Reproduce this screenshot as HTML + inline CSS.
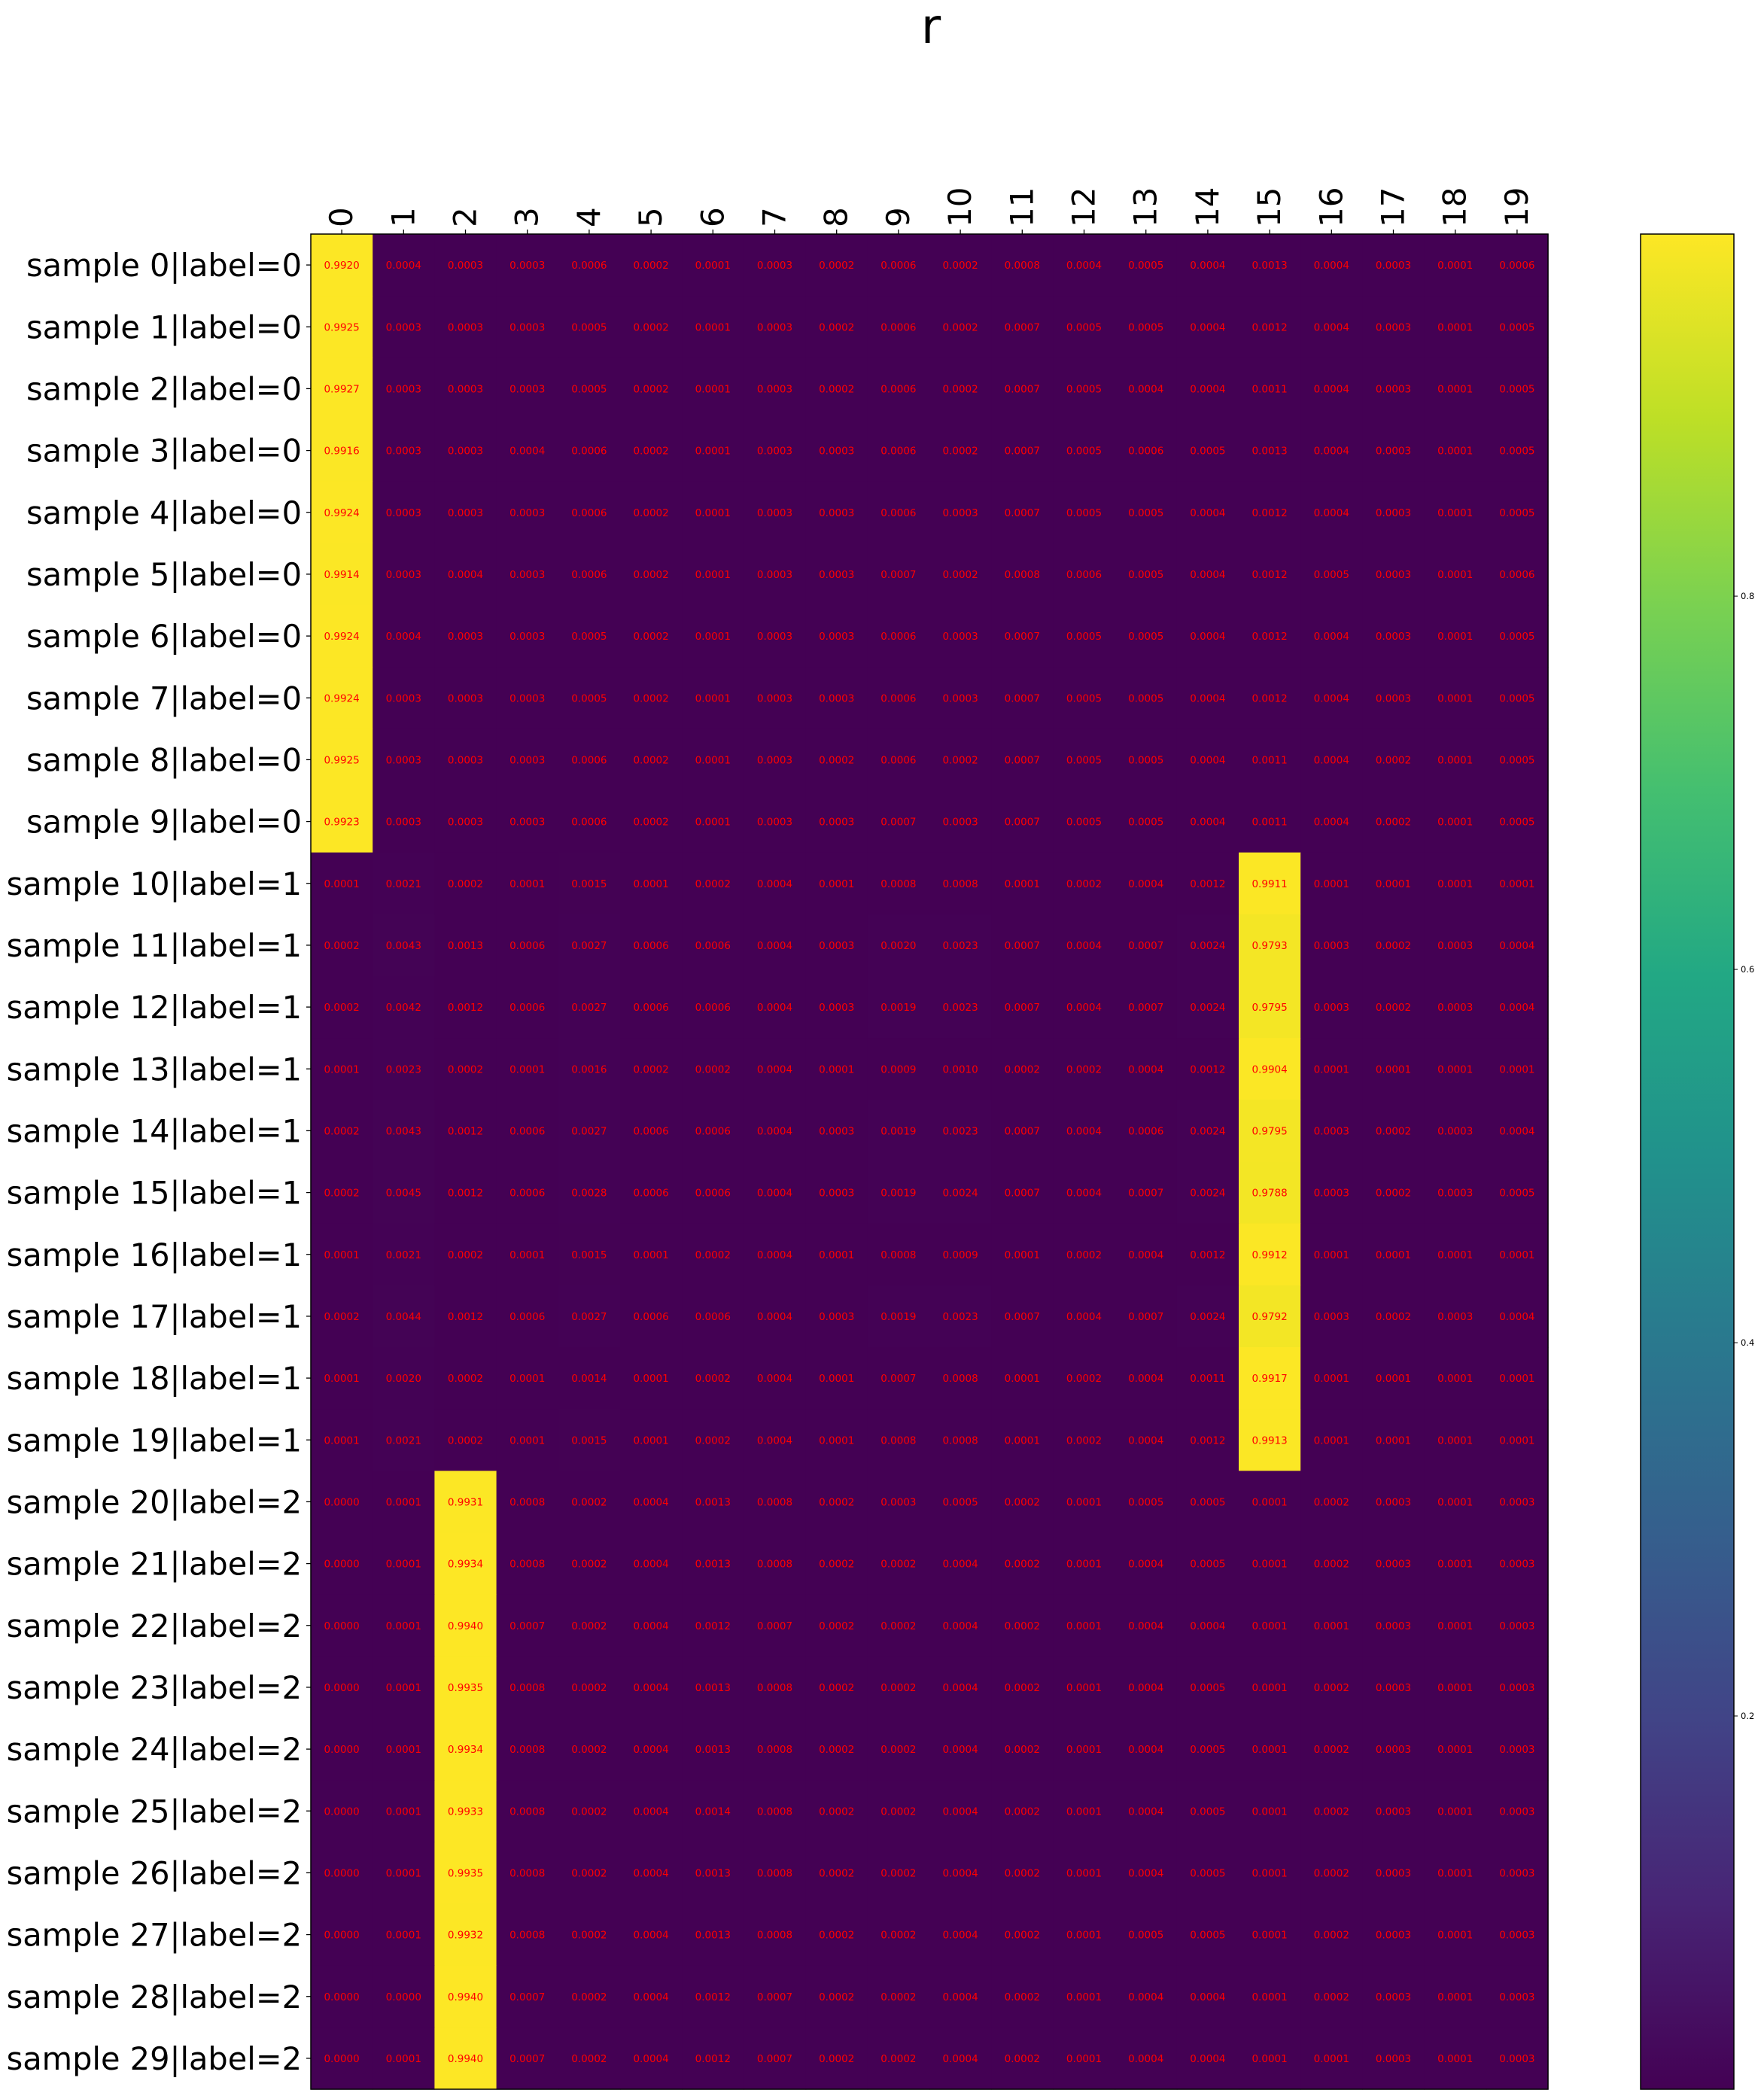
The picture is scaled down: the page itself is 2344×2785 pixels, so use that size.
<!DOCTYPE html>
<html><head><meta charset="utf-8"><style>
html,body{margin:0;padding:0;background:#fff;}
svg{display:block;font-family:"DejaVu Sans","Liberation Sans",sans-serif;}
</style></head><body>
<svg id="chart" width="2344" height="2785" viewBox="0 0 2344 2785" xmlns="http://www.w3.org/2000/svg">
<text x="1237" y="57" font-size="64" text-anchor="middle">r</text>
<g id="cells"></g>
<g id="annots"></g>
<g id="xaxis"></g>
<g id="yaxis"></g>
<rect x="413" y="311" width="1644" height="2465" fill="none" stroke="#000" stroke-width="1.5"/>
<defs><linearGradient id="cbgrad" x1="0" y1="1" x2="0" y2="0"></linearGradient></defs>
<g id="cbar"></g>
</svg>
<script>
const classes = Array.from({length:20},(_,i)=>String(i));
const sampleLabels = Array.from({length:30},(_,i)=>'sample '+i+'|label='+(i<10?0:i<20?1:2));
const row0=[.9920,.0004,.0003,.0003,.0006,.0002,.0001,.0003,.0002,.0006,.0002,.0008,.0004,.0005,.0004,.0013,.0004,.0003,.0001,.0006];
const row1=[.9925,.0003,.0003,.0003,.0005,.0002,.0001,.0003,.0002,.0006,.0002,.0007,.0005,.0005,.0004,.0012,.0004,.0003,.0001,.0005];
const row2=[.9927,.0003,.0003,.0003,.0005,.0002,.0001,.0003,.0002,.0006,.0002,.0007,.0005,.0004,.0004,.0011,.0004,.0003,.0001,.0005];
const row3=[.9916,.0003,.0003,.0004,.0006,.0002,.0001,.0003,.0003,.0006,.0002,.0007,.0005,.0006,.0005,.0013,.0004,.0003,.0001,.0005];
const row4=[.9924,.0003,.0003,.0003,.0006,.0002,.0001,.0003,.0003,.0006,.0003,.0007,.0005,.0005,.0004,.0012,.0004,.0003,.0001,.0005];
const row5=[.9914,.0003,.0004,.0003,.0006,.0002,.0001,.0003,.0003,.0007,.0002,.0008,.0006,.0005,.0004,.0012,.0005,.0003,.0001,.0006];
const row6=[.9924,.0004,.0003,.0003,.0005,.0002,.0001,.0003,.0003,.0006,.0003,.0007,.0005,.0005,.0004,.0012,.0004,.0003,.0001,.0005];
const row7=[.9924,.0003,.0003,.0003,.0005,.0002,.0001,.0003,.0003,.0006,.0003,.0007,.0005,.0005,.0004,.0012,.0004,.0003,.0001,.0005];
const row8=[.9925,.0003,.0003,.0003,.0006,.0002,.0001,.0003,.0002,.0006,.0002,.0007,.0005,.0005,.0004,.0011,.0004,.0002,.0001,.0005];
const row9=[.9923,.0003,.0003,.0003,.0006,.0002,.0001,.0003,.0003,.0007,.0003,.0007,.0005,.0005,.0004,.0011,.0004,.0002,.0001,.0005];
const row10=[.0001,.0021,.0002,.0001,.0015,.0001,.0002,.0004,.0001,.0008,.0008,.0001,.0002,.0004,.0012,.9911,.0001,.0001,.0001,.0001];
const row11=[.0002,.0043,.0013,.0006,.0027,.0006,.0006,.0004,.0003,.0020,.0023,.0007,.0004,.0007,.0024,.9793,.0003,.0002,.0003,.0004];
const row12=[.0002,.0042,.0012,.0006,.0027,.0006,.0006,.0004,.0003,.0019,.0023,.0007,.0004,.0007,.0024,.9795,.0003,.0002,.0003,.0004];
const row13=[.0001,.0023,.0002,.0001,.0016,.0002,.0002,.0004,.0001,.0009,.0010,.0002,.0002,.0004,.0012,.9904,.0001,.0001,.0001,.0001];
const row14=[.0002,.0043,.0012,.0006,.0027,.0006,.0006,.0004,.0003,.0019,.0023,.0007,.0004,.0006,.0024,.9795,.0003,.0002,.0003,.0004];
const row15=[.0002,.0045,.0012,.0006,.0028,.0006,.0006,.0004,.0003,.0019,.0024,.0007,.0004,.0007,.0024,.9788,.0003,.0002,.0003,.0005];
const row16=[.0001,.0021,.0002,.0001,.0015,.0001,.0002,.0004,.0001,.0008,.0009,.0001,.0002,.0004,.0012,.9912,.0001,.0001,.0001,.0001];
const row17=[.0002,.0044,.0012,.0006,.0027,.0006,.0006,.0004,.0003,.0019,.0023,.0007,.0004,.0007,.0024,.9792,.0003,.0002,.0003,.0004];
const row18=[.0001,.0020,.0002,.0001,.0014,.0001,.0002,.0004,.0001,.0007,.0008,.0001,.0002,.0004,.0011,.9917,.0001,.0001,.0001,.0001];
const row19=[.0001,.0021,.0002,.0001,.0015,.0001,.0002,.0004,.0001,.0008,.0008,.0001,.0002,.0004,.0012,.9913,.0001,.0001,.0001,.0001];
const row20=[.0000,.0001,.9931,.0008,.0002,.0004,.0013,.0008,.0002,.0003,.0005,.0002,.0001,.0005,.0005,.0001,.0002,.0003,.0001,.0003];
const row21=[.0000,.0001,.9934,.0008,.0002,.0004,.0013,.0008,.0002,.0002,.0004,.0002,.0001,.0004,.0005,.0001,.0002,.0003,.0001,.0003];
const row22=[.0000,.0001,.9940,.0007,.0002,.0004,.0012,.0007,.0002,.0002,.0004,.0002,.0001,.0004,.0004,.0001,.0001,.0003,.0001,.0003];
const row23=[.0000,.0001,.9935,.0008,.0002,.0004,.0013,.0008,.0002,.0002,.0004,.0002,.0001,.0004,.0005,.0001,.0002,.0003,.0001,.0003];
const row24=[.0000,.0001,.9934,.0008,.0002,.0004,.0013,.0008,.0002,.0002,.0004,.0002,.0001,.0004,.0005,.0001,.0002,.0003,.0001,.0003];
const row25=[.0000,.0001,.9933,.0008,.0002,.0004,.0014,.0008,.0002,.0002,.0004,.0002,.0001,.0004,.0005,.0001,.0002,.0003,.0001,.0003];
const row26=[.0000,.0001,.9935,.0008,.0002,.0004,.0013,.0008,.0002,.0002,.0004,.0002,.0001,.0004,.0005,.0001,.0002,.0003,.0001,.0003];
const row27=[.0000,.0001,.9932,.0008,.0002,.0004,.0013,.0008,.0002,.0002,.0004,.0002,.0001,.0005,.0005,.0001,.0002,.0003,.0001,.0003];
const row28=[.0000,.0000,.9940,.0007,.0002,.0004,.0012,.0007,.0002,.0002,.0004,.0002,.0001,.0004,.0004,.0001,.0002,.0003,.0001,.0003];
const row29=[.0000,.0001,.9940,.0007,.0002,.0004,.0012,.0007,.0002,.0002,.0004,.0002,.0001,.0004,.0004,.0001,.0001,.0003,.0001,.0003];
const values=[row0,row1,row2,row3,row4,row5,row6,row7,row8,row9,row10,row11,row12,row13,row14,row15,row16,row17,row18,row19,row20,row21,row22,row23,row24,row25,row26,row27,row28,row29];
const cbTicks=[0.2,0.4,0.6,0.8];

const NS='http://www.w3.org/2000/svg';
const PX=413,PY=311,PW=1644,PH=2465;
const nC=classes.length,nR=values.length;
const cw=PW/nC,rh=PH/nR;
const xC=i=>PX+(i+0.5)*cw, yC=j=>PY+(j+0.5)*rh;
const all=values.flat();
const vmin=Math.min(...all),vmax=Math.max(...all);
const vir=['#440154','#482475','#414487','#355f8d','#2a788e','#21918c','#22a884','#44bf70','#7ad151','#bddf26','#fde725'];
function hx(h){return [1,3,5].map(k=>parseInt(h.substr(k,2),16));}
function cmap(t){t=Math.max(0,Math.min(1,t));const p=t*10,i=Math.min(9,Math.floor(p)),f=p-i;const a=hx(vir[i]),b=hx(vir[i+1]);return 'rgb('+a.map((v,k)=>Math.round(v+(b[k]-v)*f)).join(',')+')';}
function mk(tag,attrs,parent){const e=document.createElementNS(NS,tag);for(const k in attrs)e.setAttribute(k,attrs[k]);parent.appendChild(e);return e;}
const gC=document.getElementById('cells'),gA=document.getElementById('annots'),gX=document.getElementById('xaxis'),gY=document.getElementById('yaxis'),gB=document.getElementById('cbar');
values.forEach((row,j)=>row.forEach((v,i)=>{
  const r=mk('rect',{x:PX+i*cw,y:PY+j*rh,width:cw+0.6,height:rh+0.6,fill:cmap((v-vmin)/(vmax-vmin))},gC);
  
  
  const t=mk('text',{x:xC(i),y:yC(j)+5,'font-size':13.5,fill:'#ff0000','text-anchor':'middle'},gA);
  t.textContent=v.toFixed(4);
  
  
}));
classes.forEach((c,i)=>{
  const l=mk('line',{x1:xC(i),x2:xC(i),y1:PY,y2:PY-6,stroke:'#000','stroke-width':1.3},gX);
  
  
  const t=mk('text',{x:0,y:0,'font-size':42,'text-anchor':'start',transform:'translate('+(xC(i)+14)+','+(PY-9)+') rotate(-90)'},gX);
  t.textContent=c;
  
  
});
sampleLabels.forEach((s,j)=>{
  const l=mk('line',{x1:PX,x2:PX-6,y1:yC(j),y2:yC(j),stroke:'#000','stroke-width':1.3},gY);
  
  
  const t=mk('text',{x:PX-12,y:yC(j)+15,'font-size':41.5,'text-anchor':'end'},gY);
  t.textContent=s;
  
  
});
// colorbar
const CX=2180,CW=124,CY=PY,CH=PH;
const grad=document.getElementById('cbgrad');
for(let k=0;k<=10;k++){mk('stop',{offset:(k*10)+'%','stop-color':vir[k]},grad);}
const cb=mk('rect',{x:CX,y:CY,width:CW,height:CH,fill:'url(#cbgrad)',stroke:'#000','stroke-width':1.5},gB);


const cy=v=>CY+CH*(1-(v-vmin)/(vmax-vmin));
cbTicks.forEach(v=>{
  const l=mk('line',{x1:CX+CW,x2:CX+CW+5,y1:cy(v),y2:cy(v),stroke:'#000','stroke-width':1},gB);
  
  
  const t=mk('text',{x:CX+CW+9,y:cy(v)+4,'font-size':11.5},gB);
  t.textContent=v.toFixed(1);
  
  
});
</script>
</body></html>
